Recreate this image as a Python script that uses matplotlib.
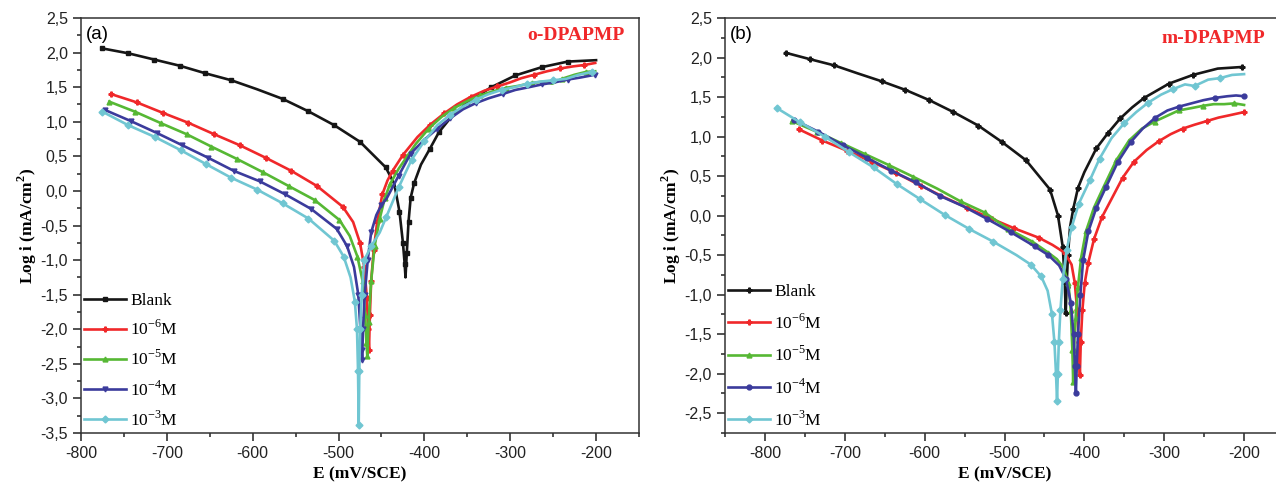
import matplotlib
matplotlib.use('Agg')
import matplotlib.pyplot as plt
from matplotlib.ticker import MultipleLocator, FuncFormatter

# ---- panel (a) : o-DPAPMP ----
e_blank_a = [-775, -745, -715, -685, -655, -625, -595, -565, -535, -505, -475, -445, -435, -429, -425, -423, -422,
             -420.5, -418.5, -416, -412, -404, -394, -383, -370, -350, -322, -294, -263, -233, -200]
i_blank_a = [2.06, 1.99, 1.90, 1.81, 1.70, 1.60, 1.47, 1.33, 1.15, 0.95, 0.71, 0.34, 0.10, -0.30, -0.75, -1.05, -1.25,
             -0.90, -0.45, -0.10, 0.11, 0.38, 0.60, 0.85, 1.05, 1.28, 1.50, 1.67, 1.79, 1.87, 1.89]

e_m6_a = [-765, -735, -705, -675, -645, -615, -585, -555, -525, -495, -483, -475, -470, -467, -465.5, -464.5,
          -463.5, -462, -459, -455, -449, -443, -437, -425, -408, -393, -377, -362, -346, -330, -315, -300,
          -287, -272, -257, -242, -227, -214, -201]
i_m6_a = [1.40, 1.28, 1.13, 0.985, 0.82, 0.66, 0.48, 0.29, 0.07, -0.23, -0.45, -0.75, -1.10, -1.55, -2.00, -2.30,
          -1.80, -1.30, -0.85, -0.45, -0.05, 0.15, 0.29, 0.52, 0.78, 0.96, 1.12, 1.25, 1.36, 1.45, 1.51, 1.57,
          1.63, 1.68, 1.73, 1.77, 1.80, 1.82, 1.85]

e_m5_a = [-767, -737, -707, -677, -648, -618, -588, -558, -528, -499, -487, -478, -472, -469, -467.5, -466.5,
          -465, -462, -458, -452, -446, -440, -430, -420, -410, -395, -380, -365, -350, -335, -320, -305,
          -290, -275, -262, -251, -240, -225, -212, -201]
i_m5_a = [1.29, 1.145, 0.98, 0.82, 0.64, 0.46, 0.27, 0.07, -0.13, -0.42, -0.65, -0.95, -1.30, -1.80, -2.20, -2.39,
          -1.90, -1.30, -0.80, -0.40, -0.10, 0.10, 0.32, 0.50, 0.68, 0.90, 1.07, 1.20, 1.30, 1.38, 1.44, 1.49,
          1.52, 1.56, 1.58, 1.55, 1.62, 1.68, 1.72, 1.73]

e_m4_a = [-772, -742, -712, -682, -652, -622, -592, -562, -532, -502, -490, -482, -477, -474.5, -473, -472.5,
          -471.5, -469.5, -466, -462, -456, -450, -444, -430, -416, -400, -385, -370, -355, -340, -325, -309,
          -294, -278, -263, -248, -233, -218, -201]
i_m4_a = [1.17, 1.01, 0.84, 0.66, 0.48, 0.29, 0.14, -0.05, -0.26, -0.55, -0.80, -1.10, -1.50, -2.00, -2.30, -2.44,
          -2.00, -1.50, -1.00, -0.60, -0.35, -0.20, -0.11, 0.22, 0.54, 0.74, 0.90, 1.05, 1.18, 1.27, 1.34, 1.40,
          1.46, 1.50, 1.54, 1.57, 1.61, 1.64, 1.68]

e_m3_a = [-775, -745, -714, -684, -654, -625, -595, -565, -535, -505, -494, -486, -481, -478.5, -477.3, -476.5,
          -475.8, -474.8, -473, -470, -462, -452, -444.5, -430, -415, -400, -385, -370, -355, -340, -325,
          -310, -295, -280, -265, -250, -235, -220, -205]
i_m3_a = [1.145, 0.95, 0.78, 0.59, 0.385, 0.19, 0.02, -0.18, -0.40, -0.72, -0.95, -1.25, -1.60, -2.00, -2.60, -3.38,
          -2.60, -2.00, -1.50, -1.00, -0.80, -0.60, -0.38, 0.05, 0.45, 0.72, 0.95, 1.10, 1.22, 1.32, 1.40,
          1.46, 1.50, 1.55, 1.58, 1.60, 1.62, 1.68, 1.72]

# ---- panel (b) : m-DPAPMP ----
e_blank_b = [-774, -744, -713, -684, -654, -624, -594, -564, -533, -503, -473, -443, -433, -427, -424.5, -423.3,
             -422.3, -420.5, -418, -414, -408, -400, -385, -370, -355, -340, -325, -294, -264, -233, -203]
i_blank_b = [2.06, 1.98, 1.90, 1.80, 1.70, 1.59, 1.46, 1.31, 1.14, 0.93, 0.70, 0.33, 0.00, -0.40, -0.85, -1.23,
             -0.90, -0.50, -0.15, 0.08, 0.35, 0.55, 0.85, 1.05, 1.23, 1.37, 1.49, 1.67, 1.78, 1.86, 1.88]

e_m6_b = [-757, -728, -697, -666, -636, -605, -575, -547, -516, -488, -457, -440, -424.5, -416, -412, -409,
          -407, -405.6, -404.5, -402.5, -399.5, -395.2, -388, -378, -366, -352, -338, -322, -307, -292, -277,
          -262, -247, -232, -218, -200]
i_m6_b = [1.09, 0.95, 0.82, 0.68, 0.54, 0.38, 0.23, 0.10, -0.04, -0.16, -0.28, -0.37, -0.47, -0.62, -0.85, -1.20,
          -1.60, -2.01, -1.60, -1.20, -0.85, -0.60, -0.30, -0.02, 0.21, 0.48, 0.68, 0.83, 0.94, 1.03, 1.10,
          1.15, 1.195, 1.24, 1.27, 1.31]

e_m5_b = [-766, -735, -705, -675, -645, -614, -584, -555, -525, -495, -465, -445, -434.5, -426, -420, -417,
          -415, -414, -413, -411, -408, -404, -398, -388, -376, -360, -344, -328, -312, -297, -282, -266,
          -251, -238, -225, -212, -200]
i_m5_b = [1.195, 1.06, 0.92, 0.78, 0.64, 0.49, 0.34, 0.18, 0.04, -0.17, -0.33, -0.47, -0.55, -0.66, -0.85, -1.20,
          -1.70, -2.10, -1.70, -1.30, -0.90, -0.53, -0.20, 0.10, 0.36, 0.70, 0.95, 1.10, 1.19, 1.26, 1.33, 1.36,
          1.39, 1.41, 1.41, 1.42, 1.40]

e_m4_b = [-763, -733, -702, -672, -642, -611, -581, -552, -522, -492, -462, -445, -431.6, -423, -417, -413.5,
          -411.8, -410.6, -409.5, -408, -405, -401.5, -395, -385, -373, -358, -342, -327, -311, -296, -281,
          -266, -251, -236, -221, -210, -200]
i_m4_b = [1.21, 1.06, 0.89, 0.73, 0.57, 0.42, 0.25, 0.12, -0.04, -0.21, -0.39, -0.50, -0.63, -0.80, -1.10, -1.50,
          -1.90, -2.25, -1.90, -1.50, -1.00, -0.56, -0.20, 0.10, 0.36, 0.68, 0.93, 1.10, 1.24, 1.33, 1.38,
          1.42, 1.46, 1.49, 1.51, 1.52, 1.51]

e_m3_b = [-785, -756, -725, -695, -664, -635, -606, -575, -544, -514, -485, -467, -454, -446, -440.5, -437.5,
          -435.5, -434.2, -433.2, -432, -430, -427, -422.3, -416, -407, -393, -381, -366, -350, -335, -320,
          -304, -289, -274, -262, -245, -230, -215, -200]
i_m3_b = [1.36, 1.18, 1.00, 0.805, 0.61, 0.40, 0.21, 0.01, -0.17, -0.33, -0.50, -0.62, -0.77, -0.95, -1.25, -1.60,
          -2.00, -2.35, -2.00, -1.60, -1.20, -0.80, -0.44, -0.15, 0.15, 0.45, 0.72, 0.98, 1.17, 1.31, 1.43,
          1.53, 1.60, 1.66, 1.64, 1.72, 1.74, 1.78, 1.79]

labels = ['Blank', r'10$^{\mathregular{-6}}$M', r'10$^{\mathregular{-5}}$M',
          r'10$^{\mathregular{-4}}$M', r'10$^{\mathregular{-3}}$M']
colors = ['#161616', '#f0282a', '#56b834', '#3b3b9c', '#70c6d2']
markers_a = ['s', 'P', '^', 'v', 'D']
markers_b = ['P', 'P', '^', 'o', 'D']

curves_a = [(e_blank_a, i_blank_a), (e_m6_a, i_m6_a), (e_m5_a, i_m5_a), (e_m4_a, i_m4_a), (e_m3_a, i_m3_a)]
curves_b = [(e_blank_b, i_blank_b), (e_m6_b, i_m6_b), (e_m5_b, i_m5_b), (e_m4_b, i_m4_b), (e_m3_b, i_m3_b)]

serif = 'Liberation Serif'
sans = 'Liberation Sans'
plt.rcParams['font.family'] = sans
plt.rcParams['mathtext.fontset'] = 'custom'
plt.rcParams['mathtext.rm'] = serif


def comma(v, pos):
    return f'{v:.1f}'.replace('.', ',')


def whole(v, pos):
    return f'{v:.0f}'


def draw(ax, curves, markers, xlim, ylim, tag, name, spacing):
    for (e, i), c, m, lab in zip(curves, colors, markers, labels):
        ax.plot(e, i, color=c, lw=1.9, marker=m, ms=3.5, mew=1.0, label=lab, markevery=0.042)
    ax.set_xlim(*xlim)
    ax.set_ylim(*ylim)
    ax.xaxis.set_major_locator(MultipleLocator(100))
    ax.xaxis.set_minor_locator(MultipleLocator(50))
    ax.xaxis.set_major_formatter(FuncFormatter(whole))
    ax.yaxis.set_major_locator(MultipleLocator(0.5))
    ax.yaxis.set_minor_locator(MultipleLocator(0.25))
    ax.yaxis.set_major_formatter(FuncFormatter(comma))
    ax.tick_params(which='both', direction='out', width=1.1, labelsize=11.5, colors='#222222')
    ax.tick_params(which='major', length=6)
    ax.tick_params(which='minor', length=3)
    for s in ax.spines.values():
        s.set_linewidth(1.1)
        s.set_color('#333333')
    ax.set_xlabel('E (mV/SCE)', fontfamily=serif, fontweight='bold', fontsize=12.5, labelpad=4)
    ax.set_ylabel(r'Log i (mA/cm$^{\mathregular{2}}$)', fontfamily=serif, fontweight='bold',
                  fontsize=12.5, labelpad=1)
    ax.text(0.008, 0.96, tag, transform=ax.transAxes, fontsize=13.5, va='center', ha='left')
    ax.text(name[1], name[2], name[0], transform=ax.transAxes, color='#f0282a', fontfamily=serif,
            fontweight='bold', fontsize=14, va='center', ha='left')
    ax.legend(loc='lower left', frameon=False, prop={'family': serif, 'size': 12.5},
              handlelength=2.4, handletextpad=0.25, labelspacing=spacing, borderaxespad=0.1,
              borderpad=0.1)


fig = plt.figure(figsize=(12.76, 4.87), dpi=100)
ax_a = fig.add_axes([81 / 1276, 54 / 487, 558 / 1276, 415 / 487])
ax_b = fig.add_axes([725 / 1276, 54 / 487, 559 / 1276, 415 / 487])

draw(ax_a, curves_a, markers_a, (-800, -150), (-3.5, 2.5), '(a)', ('o-DPAPMP', 0.80, 0.958), 0.63)
draw(ax_b, curves_b, markers_b, (-850, -150), (-2.75, 2.5), '(b)', ('m-DPAPMP', 0.78, 0.95), 0.75)

fig.savefig('out.png', dpi=100)
